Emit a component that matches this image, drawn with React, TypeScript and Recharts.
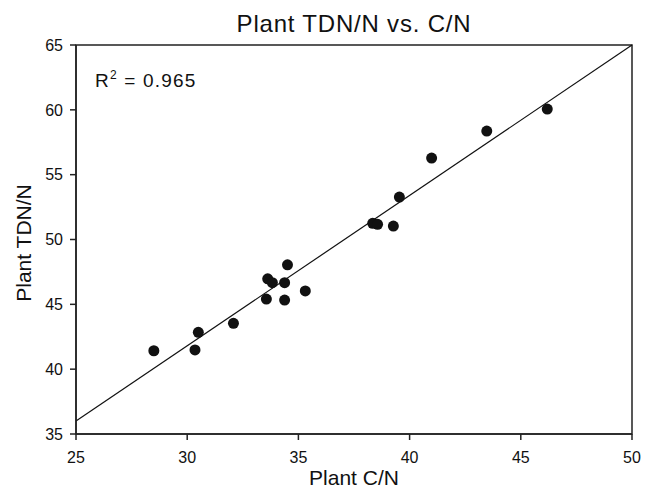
import React from 'react';
import { ScatterChart, Scatter, XAxis, YAxis, ReferenceLine, ReferenceArea } from 'recharts';

const plantCN = [28.5, 30.35, 30.5, 32.08, 33.56, 33.62, 33.83, 34.38, 34.38, 34.51, 35.31, 38.34, 38.56, 39.27, 39.54, 40.99, 43.47, 46.19];
const plantTDN = [41.42, 41.48, 42.84, 43.54, 45.41, 46.97, 46.67, 46.67, 45.33, 48.05, 46.03, 51.25, 51.17, 51.04, 53.27, 56.28, 58.36, 60.06];
const xTicks = [25, 30, 35, 40, 45, 50];
const yTicks = [35, 40, 45, 50, 55, 60, 65];
const fitLine = [{ x: 25, y: 36 }, { x: 50, y: 65 }];

const points = plantCN.map((x, i) => ({ x, y: plantTDN[i] }));

const font = '"Liberation Sans", Arial, sans-serif';
const axisColor = '#222';

const Dot = (props: any) => <circle cx={props.cx} cy={props.cy} r={5.5} fill="#111" />;

export default function App() {
  return (
    <div style={{ position: 'absolute', left: 0, top: 0, width: 652, height: 490, background: '#fff' }}>
      <ScatterChart width={652} height={490} margin={{ top: 45, right: 20, bottom: 0, left: 0 }} style={{ fontFamily: font }}>
        <XAxis
          type="number"
          dataKey="x"
          domain={[25, 50]}
          ticks={xTicks}
          height={56}
          stroke={axisColor}
          strokeWidth={1.5}
          tickSize={6}
          tickMargin={12}
          tick={{ fill: '#111', fontSize: 16 }}
          allowDataOverflow
        />
        <YAxis
          type="number"
          dataKey="y"
          domain={[35, 65]}
          ticks={yTicks}
          width={76}
          stroke={axisColor}
          strokeWidth={1.5}
          tickSize={6}
          tickMargin={7}
          tick={{ fill: '#111', fontSize: 16 }}
          allowDataOverflow
        />
        <ReferenceArea x1={25} x2={50} y1={35} y2={65} fill="none" stroke={axisColor} strokeWidth={1.5} ifOverflow="visible" />
        <ReferenceLine segment={fitLine} stroke="#111" strokeWidth={1.2} ifOverflow="visible" />
        <Scatter data={points} shape={Dot} isAnimationActive={false} />
        <text x={354} y={32} textAnchor="middle" fontSize={24} letterSpacing={0.8} fill="#111" fontFamily={font}>Plant TDN/N vs. C/N</text>
        <text x={354} y={485} textAnchor="middle" fontSize={21} fill="#111" fontFamily={font}>Plant C/N</text>
        <text x={31} y={243} textAnchor="middle" fontSize={21} fill="#111" fontFamily={font} transform="rotate(-90 31 243)">Plant TDN/N</text>
        <text x={95} y={87} fontSize={19} letterSpacing={1.2} fill="#111" fontFamily={font}>
          R<tspan fontSize={12} dy={-8}>2</tspan><tspan dy={8}> = 0.965</tspan>
        </text>
      </ScatterChart>
    </div>
  );
}
